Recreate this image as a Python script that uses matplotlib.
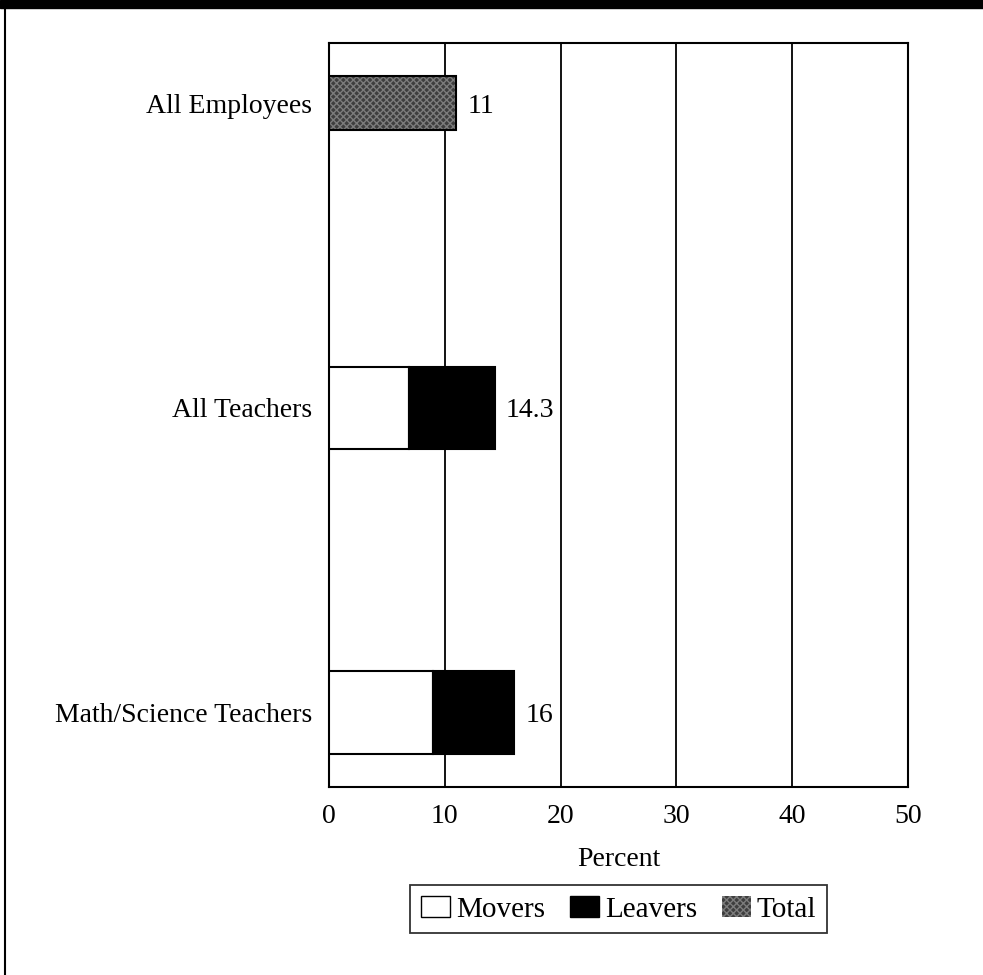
import matplotlib
matplotlib.use('Agg')
import matplotlib.pyplot as plt
from matplotlib.patches import Patch, Rectangle
from matplotlib.lines import Line2D

plt.rcParams['font.family'] = ['Liberation Serif', 'DejaVu Serif']

# 数据
groups = ['All Employees', 'All Teachers', 'Math/Science Teachers']
movers = [0, 6.9, 9.0]
leavers = [0, 7.4, 7.0]
total = [11, 0, 0]
labels = ['11', '14.3', '16']
xticks = [0, 10, 20, 30, 40, 50]

fig = plt.figure(figsize=(9.83, 9.75), dpi=100)
ax = fig.add_axes([0.3347, 0.1928, 0.589, 0.7631])

ypos = list(range(len(groups)))
heights = [0.177, 0.272, 0.272]

# 全体员工：灰色颗粒填充
ax.barh(ypos[0], total[0], height=heights[0], color='#3e3e3e',
        hatch='xxxxx', edgecolor='#7c7c7c', linewidth=0, zorder=3)
ax.barh(ypos[0], total[0], height=heights[0], fill=False,
        edgecolor='black', linewidth=1.5, zorder=4)

# 教师：流动 + 离职 堆叠
ax.barh(ypos[1:], movers[1:], height=heights[1:], color='white',
        edgecolor='black', linewidth=1.5, zorder=3)
ax.barh(ypos[1:], leavers[1:], left=movers[1:], height=heights[1:],
        color='black', edgecolor='black', linewidth=1.5, zorder=3)

ends = [total[0], movers[1] + leavers[1], movers[2] + leavers[2]]
for y, e, s in zip(ypos, ends, labels):
    ax.annotate(s, (e, y), xytext=(8, 0), textcoords='offset points',
                ha='left', va='center_baseline', fontsize=20)

ax.set_xlim(0, 50)
ax.set_ylim(2.243, -0.197)
ax.set_xticks(xticks)
ax.set_yticks(ypos)
ax.set_yticklabels(groups)
ax.tick_params(length=0, labelsize=20)
ax.tick_params(axis='x', pad=12)
ax.tick_params(axis='y', pad=12)
ax.xaxis.grid(True, color='black', linewidth=1.3)
ax.set_axisbelow(True)
for sp in ax.spines.values():
    sp.set_color('black')
    sp.set_linewidth(1.5)
ax.set_xlabel('Percent', fontsize=20, labelpad=13)

handles = [Patch(facecolor='white', edgecolor='black', linewidth=1),
           Patch(facecolor='black', edgecolor='black'),
           Patch(facecolor='#3e3e3e', edgecolor='#7c7c7c', hatch='xxxxx', linewidth=0)]
leg = ax.legend(handles, ['Movers', 'Leavers', 'Total'], ncol=3,
                loc='upper center', bbox_to_anchor=(0.5, -0.132),
                fontsize=21, frameon=True, fancybox=False, edgecolor='black',
                handlelength=1.0, handleheight=0.75, handletextpad=0.2,
                columnspacing=0.85, borderpad=0.36, borderaxespad=0)
leg.get_frame().set_linewidth(1.3)

# 外框：顶部黑条和左边线
fig.patches.append(Rectangle((0, 1 - 8 / 975), 1, 8 / 975, transform=fig.transFigure,
                             color='black', zorder=10))
fig.lines.append(Line2D([5 / 983, 5 / 983], [0, 1], transform=fig.transFigure,
                        color='black', linewidth=1.5))

plt.savefig('out.png', dpi=100)
